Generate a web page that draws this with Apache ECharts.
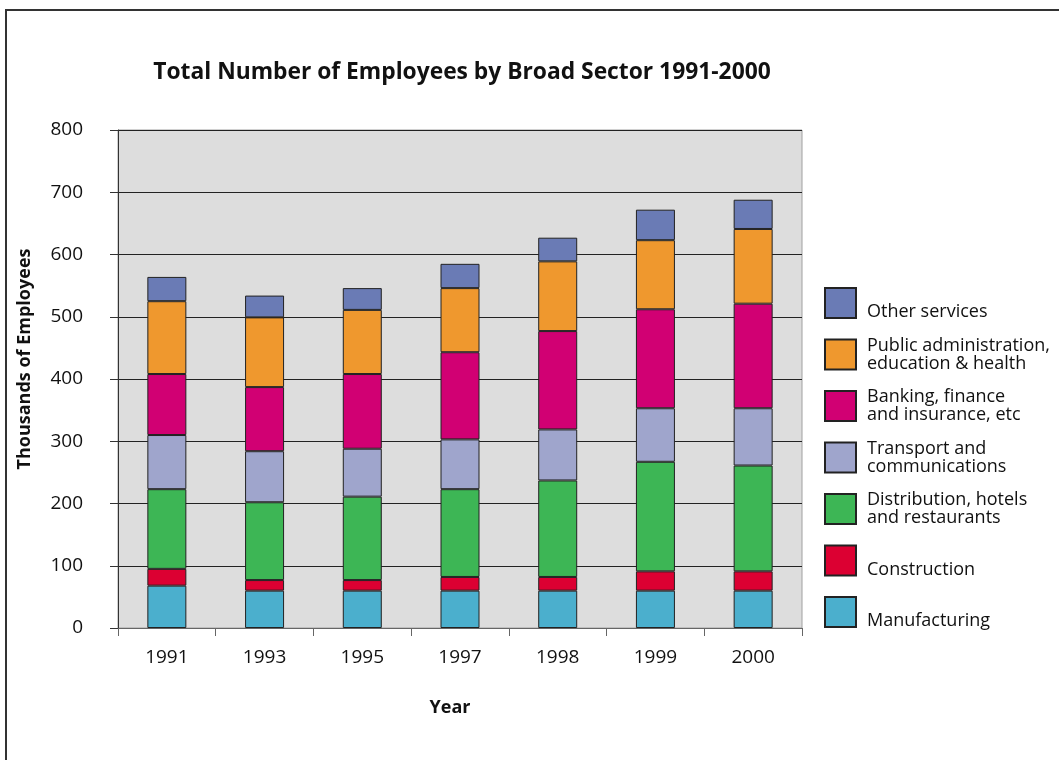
<!DOCTYPE html>
<html>
<head>
<meta charset="utf-8">
<title>Total Number of Employees by Broad Sector 1991-2000</title>
<script src="https://cdn.jsdelivr.net/npm/echarts@6/dist/echarts.min.js"></script>
<style>
  html, body { margin: 0; padding: 0; background: #ffffff; }
  #chart { width: 1059px; height: 760px; }
</style>
</head>
<body>
<div id="chart"></div>
<script>
// Years on the category axis
const years = ['1991', '1993', '1995', '1997', '1998', '1999', '2000'];

// Employees per sector, thousands
const manufacturing = [68, 60, 60, 60, 60, 60, 60];
const construction = [27, 17, 17, 22, 22, 31, 31];
const distribution = [128, 125, 134, 141, 155, 176, 170];
const transport = [87, 82, 77, 80, 82, 86, 92];
const banking = [98, 103, 120, 140, 158, 159, 168];
const publicAdmin = [117, 112, 103, 103, 112, 111, 120];
const otherServices = [39, 35, 35, 39, 38, 49, 47];

// Value axis ticks
const yTicks = [0, 100, 200, 300, 400, 500, 600, 700, 800];

const sectors = [
  { name: 'Manufacturing', label: '\nManufacturing', data: manufacturing, color: '#4bafcd' },
  { name: 'Construction', label: '\nConstruction', data: construction, color: '#dc0032' },
  { name: 'Distribution, hotels and restaurants', label: 'Distribution, hotels\nand restaurants', data: distribution, color: '#3db655' },
  { name: 'Transport and communications', label: 'Transport and\ncommunications', data: transport, color: '#9fa5cc' },
  { name: 'Banking, finance and insurance, etc', label: 'Banking, finance\nand insurance, etc', data: banking, color: '#d10073' },
  { name: 'Public administration, education & health', label: 'Public administration,\neducation & health', data: publicAdmin, color: '#ef982e' },
  { name: 'Other services', label: '\nOther services', data: otherServices, color: '#6a7bb5' }
];

const labelByName = {};
sectors.forEach(s => { labelByName[s.name] = s.label; });

const axisNameStyle = { fontFamily: 'Open Sans', fontWeight: 'bold', fontSize: 18, fill: '#111' };

const chart = echarts.init(document.getElementById('chart'), null, { renderer: 'canvas' });

chart.setOption({
  backgroundColor: '#ffffff',
  animation: false,
  title: {
    text: 'Total Number of Employees by Broad Sector 1991-2000',
    left: 457,
    top: 56,
    textAlign: 'center',
    textStyle: { fontFamily: 'Open Sans', fontWeight: 'bold', fontSize: 22.8, color: '#111' }
  },
  graphic: [
    {
      // frame around the chart
      type: 'rect',
      shape: { x: 6, y: 10, width: 1200, height: 900 },
      style: { fill: 'none', stroke: '#333', lineWidth: 2 },
      silent: true,
      z: 100
    },
    {
      // value axis title
      type: 'text',
      x: 25,
      y: 359,
      rotation: Math.PI / 2,
      style: Object.assign({ text: 'Thousands of Employees', textAlign: 'center', textVerticalAlign: 'middle' }, axisNameStyle),
      silent: true
    },
    {
      // category axis title
      type: 'text',
      x: 450,
      y: 708,
      style: Object.assign({ text: 'Year', textAlign: 'center', textVerticalAlign: 'middle' }, axisNameStyle),
      silent: true
    }
  ],
  legend: {
    orient: 'vertical',
    left: 824,
    top: 285,
    padding: 0,
    itemWidth: 31,
    itemHeight: 30,
    itemGap: 15.5,
    icon: 'rect',
    data: sectors.map(s => s.name).reverse(),
    formatter: name => labelByName[name],
    textStyle: {
      fontFamily: 'Open Sans',
      fontSize: 18,
      lineHeight: 18,
      color: '#111',
      padding: [0, 0, 0, 6]
    },
    selectedMode: false
  },
  grid: {
    left: 118,
    right: 257,
    top: 130,
    bottom: 132,
    show: true,
    backgroundColor: '#dddddd',
    borderColor: '#a0a0a0',
    borderWidth: 1
  },
  xAxis: {
    type: 'category',
    data: years,
    axisLine: { lineStyle: { color: '#666', width: 1 } },
    axisTick: { show: true, length: 8, alignWithLabel: false, lineStyle: { color: '#666' } },
    axisLabel: { margin: 20, fontFamily: 'Open Sans', fontSize: 19, color: '#111' },
    splitLine: { show: false }
  },
  yAxis: {
    type: 'value',
    min: yTicks[0],
    max: yTicks[yTicks.length - 1],
    interval: yTicks[1] - yTicks[0],
    axisLine: { show: true, lineStyle: { color: '#333', width: 1 } },
    axisTick: { show: true, length: 8, lineStyle: { color: '#333' } },
    axisLabel: { margin: 35, fontFamily: 'Open Sans', fontSize: 19, color: '#111' },
    splitLine: { show: true, lineStyle: { color: '#222', width: 1 } }
  },
  series: sectors.map(s => ({
    name: s.name,
    type: 'bar',
    stack: 'total',
    barWidth: 39,
    data: s.data,
    itemStyle: { color: s.color, borderColor: '#222', borderWidth: 1 },
    emphasis: { disabled: true }
  }))
});
</script>
</body>
</html>
